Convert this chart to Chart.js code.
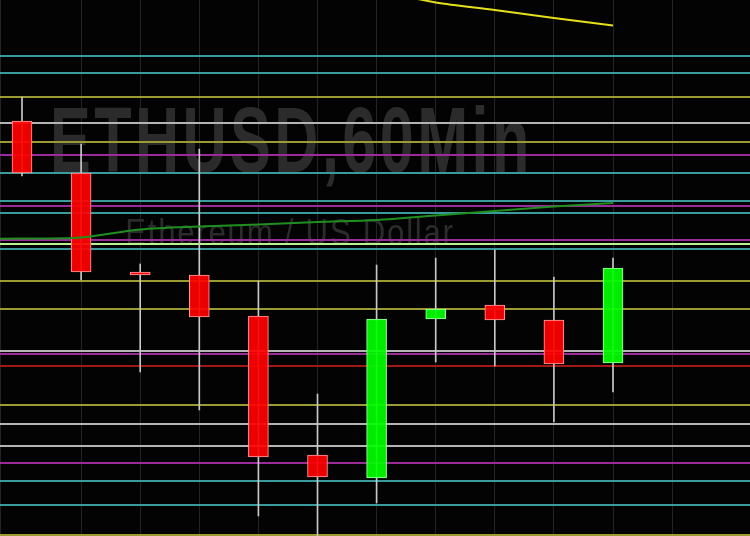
<!DOCTYPE html>
<html>
<head>
<meta charset="utf-8">
<script src="https://cdn.jsdelivr.net/npm/chart.js@4/dist/chart.umd.min.js"></script>
<style>
html,body{margin:0;padding:0;background:#030303;overflow:hidden;}
canvas{display:block;}
</style>
</head>
<body>
<canvas id="c" width="750" height="536"></canvas>
<script>
// ---- data (price units, arbitrary scale) ----
const candleIndex = [0,1,2,3,4,5,6,7,8,9,10];
const opens  = [415, 363, 264, 261, 220, 81,  58, 217, 231, 216, 173];
const closes = [363, 264, 261, 219, 79,  59, 217, 227, 216, 172, 268];
const highs  = [439, 392, 272, 387, 255, 142, 271, 278, 286, 259, 278];
const lows   = [360, 256, 164, 126, 20,  -5,  33, 174, 170, 114, 144];

const greenMaIndex = [-1,0,1,2,3,4,5,6,7,8,9,10];
const greenMa = [296.5, 297.5, 298.5, 306.5, 309.5, 311.5, 314, 316, 320.5, 325, 329.5, 333];
const yellowMaIndex = [6,7,8,9,10];
const yellowMa = [546, 533.5, 526, 518, 510.5];

const levels = [480, 463, 439, 413, 394, 381, 363, 335, 330, 323, 296, 292, 287, 255, 227, 185, 182, 170, 131, 112, 90, 73, 55, 31, 1];
const levelKinds = ['cyan','cyan','olive','gray','olive','magenta','cyan','cyan','magenta','cyan','magenta','lime','cyan','olive','olive','gray','magenta','red','olive','gray','gray','magenta','cyan','cyan','olive'];

const titleText = 'ETHUSD,60Min';
const subtitleText = 'Ethereum / US Dollar';

// ---- styles ----
const kindColor = {
  cyan: '#3a9c9a', olive: '#9c9a32', gray: '#b4b4b4', magenta: '#9a2c9a',
  lime: '#b8f48a', red: '#a01818'
};

const datasets = [];
levels.forEach((v, i) => {
  datasets.push({
    type: 'line', order: 3,
    data: [{x: -2, y: v}, {x: 14, y: v}],
    borderColor: kindColor[levelKinds[i]], borderWidth: 2,
    pointRadius: 0, tension: 0
  });
});

const up = candleIndex.map(i => closes[i] >= opens[i]);
datasets.push({
  type: 'bar', order: 2, grouped: false,
  data: candleIndex.map(i => ({x: i, y: [lows[i], highs[i]]})),
  backgroundColor: '#c8c8c8', borderWidth: 0, barThickness: 1
});
datasets.push({
  type: 'bar', order: 1, grouped: false,
  data: candleIndex.map(i => ({x: i, y: [opens[i], closes[i]]})),
  backgroundColor: candleIndex.map(i => up[i] ? 'rgba(0,255,0,0.92)' : 'rgba(255,0,0,0.92)'),
  borderColor: candleIndex.map(i => up[i] ? '#9cff9c' : '#ff9a9a'),
  borderWidth: 1, borderSkipped: false, barThickness: 20
});
datasets.push({
  type: 'line', order: 0,
  data: greenMaIndex.map((x, k) => ({x, y: greenMa[k]})),
  borderColor: '#1f8f1f', borderWidth: 2, pointRadius: 0, tension: 0.3
});
datasets.push({
  type: 'line', order: 0,
  data: yellowMaIndex.map((x, k) => ({x, y: yellowMa[k]})),
  borderColor: '#e4e01c', borderWidth: 2, pointRadius: 0, tension: 0.3
});

const watermark = {
  id: 'watermark',
  beforeDatasetsDraw(chart) {
    const ctx = chart.ctx;
    function fitText(txt, font, spacing, left, right, capTop, baseline) {
      ctx.save();
      ctx.font = font;
      try { ctx.letterSpacing = spacing; } catch (e) {}
      const m = ctx.measureText(txt);
      const w = m.actualBoundingBoxLeft + m.actualBoundingBoxRight;
      const cap = ctx.measureText('E').actualBoundingBoxAscent;
      const sx = (right - left) / w;
      const sy = (baseline - capTop) / cap;
      ctx.translate(left, baseline);
      ctx.scale(sx, sy);
      ctx.fillStyle = '#2b2b2b';
      ctx.textBaseline = 'alphabetic';
      ctx.fillText(txt, m.actualBoundingBoxLeft, 0);
      ctx.restore();
    }
    fitText(titleText, 'bold 90px "Liberation Sans Narrow", "Liberation Sans", Arial, sans-serif', '5px', 54, 526, 107, 172);
    fitText(subtitleText, '36px "Liberation Sans Narrow", "Liberation Sans", Arial, sans-serif', '2px', 127, 453, 218, 245);
  }
};

new Chart(document.getElementById('c'), {
  type: 'bar',
  data: { datasets },
  plugins: [watermark],
  options: {
    responsive: false, animation: false, devicePixelRatio: 1,
    layout: { padding: 0 },
    plugins: { legend: { display: false }, tooltip: { enabled: false } },
    scales: {
      x: {
        type: 'linear', min: -22/59.1, max: (750-22)/59.1, offset: false,
        ticks: { display: false, stepSize: 1 },
        grid: { color: '#242424', lineWidth: 1, drawTicks: false, offset: false },
        border: { display: false }
      },
      y: { type: 'linear', min: 0, max: 536, display: false }
    }
  }
});
</script>
</body>
</html>
